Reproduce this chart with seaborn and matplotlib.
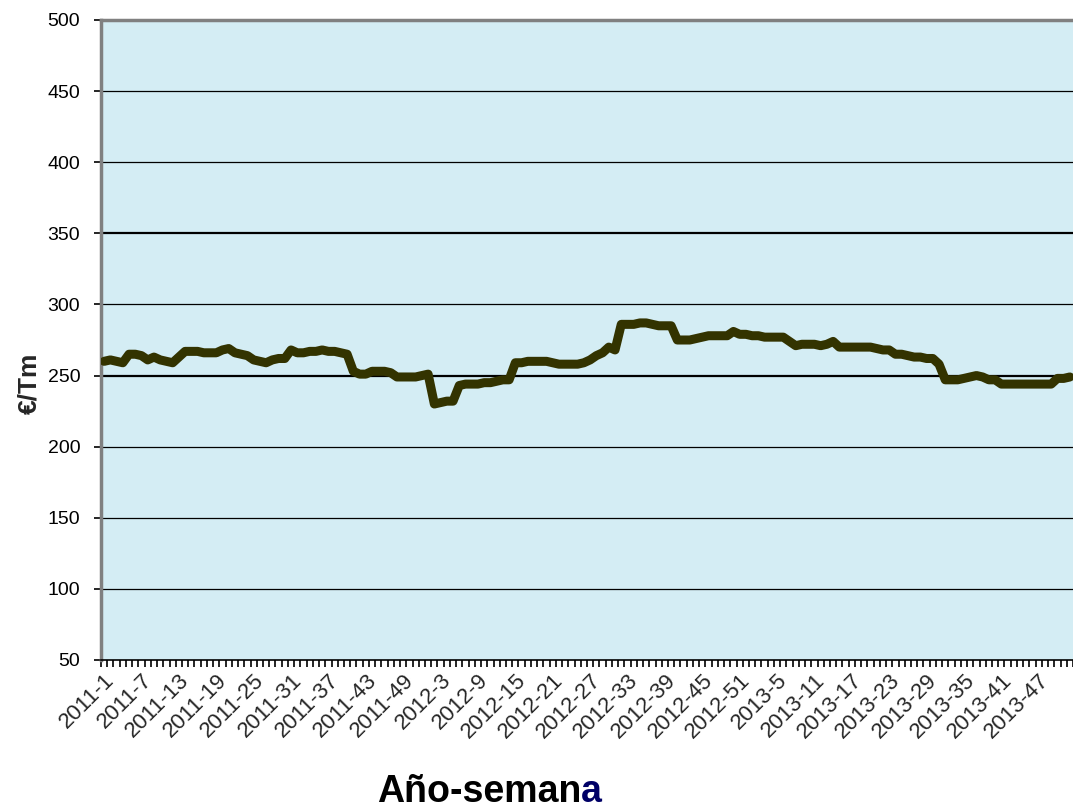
import numpy as np
import pandas as pd
import matplotlib
matplotlib.use("Agg")
import matplotlib.pyplot as plt
import seaborn as sns

# semanas 2011-1 .. 2013-52
years = [2011, 2012, 2013]
weeks_per_year = 52
semana = [f"{y}-{w}" for y in years for w in range(1, weeks_per_year + 1)]

precio_2011 = [260, 261, 260, 259, 265, 265, 264, 261, 263, 261,
               260, 259, 263, 267, 267, 267, 266, 266, 266, 268,
               269, 266, 265, 264, 261, 260, 259, 261, 262, 262,
               268, 266, 266, 267, 267, 268, 267, 267, 266, 265,
               253, 251, 251, 253, 253, 253, 252, 249, 249, 249,
               249, 250]
precio_2012 = [251, 230, 231, 232, 232, 243, 244, 244, 244, 245,
               245, 246, 247, 247, 259, 259, 260, 260, 260, 260,
               259, 258, 258, 258, 258, 259, 261, 264, 266, 270,
               268, 286, 286, 286, 287, 287, 286, 285, 285, 285,
               275, 275, 275, 276, 277, 278, 278, 278, 278, 281,
               279, 279]
precio_2013 = [278, 278, 277, 277, 277, 277, 274, 271, 272, 272,
               272, 271, 272, 274, 270, 270, 270, 270, 270, 270,
               269, 268, 268, 265, 265, 264, 263, 263, 262, 262,
               258, 247, 247, 247, 248, 249, 250, 249, 247, 247,
               244, 244, 244, 244, 244, 244, 244, 244, 244, 248,
               248, 249]

precio = precio_2011 + precio_2012 + precio_2013
df = pd.DataFrame({"semana": semana, "precio": precio})

sns.set_style("white")
plt.rcParams['font.family'] = ['Liberation Sans', 'DejaVu Sans']

fig = plt.figure(figsize=(10.73, 8.11), dpi=100)
ax = fig.add_axes([101/1073, 1 - 660/811, 972/1073, 640/811])
ax.set_facecolor("#D4EDF4")

sns.lineplot(data=df, x="semana", y="precio", sort=False, ax=ax,
             color="#333300", linewidth=6.5, solid_joinstyle="round",
             solid_capstyle="round", zorder=3)

n = len(semana)
ax.set_xlim(-0.5, n - 0.5)
ax.set_ylim(50, 500)

# lineas horizontales
yt = np.arange(50, 501, 50)
ax.set_yticks(yt)
for v in yt[1:-1]:
    lw = 1.6 if v in (250, 350) else 0.9
    ax.axhline(v, color="black", linewidth=lw, zorder=1)

# eje x: marcas entre categorias, etiqueta cada 6 semanas
ax.set_xticks(np.arange(0, n, 6))
ax.set_xticklabels([semana[i] for i in range(0, n, 6)], rotation=45,
                   ha="right", va="top", rotation_mode="anchor", fontsize=16)
ax.set_xticks(np.arange(-0.5, n, 1), minor=True)
ax.tick_params(axis="x", which="major", length=0, pad=7)
ax.tick_params(axis="x", which="minor", length=5, width=1.2, color="black",
               direction="out", bottom=True)
ax.tick_params(axis="y", length=5, width=1.2, color="black", direction="out",
               left=True, labelsize=14, labelcolor="black", pad=10)

ax.spines["right"].set_visible(False)
ax.spines["top"].set_color("#808080")
ax.spines["top"].set_linewidth(2.5)
ax.spines["left"].set_color("#808080")
ax.spines["left"].set_linewidth(2.5)
ax.spines["bottom"].set_color("black")
ax.spines["bottom"].set_linewidth(1.2)

ax.set_xlabel("")
ax.set_ylabel("")
fig.text(29/1073, 1 - 383/811, "€/Tm", fontsize=19, fontweight="bold",
         rotation=90, ha="center", va="center")

fig.text(0.5415, 1 - 792/811, "Año-seman", fontsize=27, fontweight="bold",
         ha="right", va="center", color="black")
fig.text(0.5415, 1 - 792/811, "a", fontsize=27, fontweight="bold",
         ha="left", va="center", color="#000066")

fig.savefig("out.png", dpi=100)
